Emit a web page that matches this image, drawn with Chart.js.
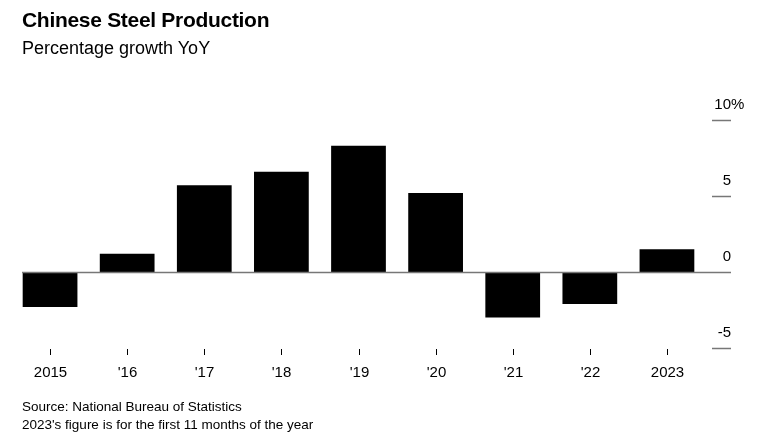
<!DOCTYPE html>
<html><head><meta charset="utf-8">
<script src="https://cdn.jsdelivr.net/npm/chart.js@4"></script>
<style>
body{margin:0;width:768px;height:446px;position:relative;font-family:"Liberation Sans",Arial,sans-serif;background:#fff;overflow:hidden}
#t{position:absolute;left:22px;top:8px;font-size:21px;font-weight:bold;color:#000;letter-spacing:-0.3px;z-index:2}
#s{position:absolute;left:22px;top:38px;font-size:18px;color:#000;z-index:2}
#src{position:absolute;left:22px;top:398px;font-size:13.5px;line-height:18px;color:#000;z-index:2}
canvas{position:absolute;left:0;top:0}
</style></head><body>
<div id="t">Chinese Steel Production</div>
<div id="s">Percentage growth YoY</div>
<div id="src">Source: National Bureau of Statistics<br>2023's figure is for the first 11 months of the year</div>
<canvas id="c" width="768" height="446" style="width:768px;height:446px"></canvas>
<script>
const categories=["2015","'16","'17","'18","'19","'20","'21","'22","2023"];
const growth=[-2.3,1.2,5.7,6.6,8.3,5.2,-3.0,-2.1,1.5];
const yTicks=[10,5,0,-5];
const yTickLabels=["10","5","0","-5"];
const deco={id:'deco',afterDatasetsDraw(ch){
 const c=ch.ctx,y=ch.scales.y,x=ch.scales.x;
 c.save();
 c.strokeStyle='#777';c.lineWidth=1.5;
 yTicks.forEach((v,i)=>{const p=Math.round(y.getPixelForValue(v))+0.5;
  c.beginPath();c.moveTo(v===0?22:712,p);c.lineTo(731,p);c.stroke();
  c.fillStyle='#000';c.font='15px "Liberation Sans", Arial';c.textAlign='right';c.textBaseline='middle';
  c.fillText(yTickLabels[i],731,p-16);
  if(i===0){c.textAlign='left';c.fillText('%',731,p-16);}
 });
 c.strokeStyle='#000';c.lineWidth=1;
 categories.forEach((l,i)=>{const p=Math.round(x.getPixelForValue(i))+0.5;
  c.beginPath();c.moveTo(p,349);c.lineTo(p,355);c.stroke();
  c.fillStyle='#000';c.font='15px "Liberation Sans", Arial';c.textAlign='center';c.textBaseline='middle';
  c.fillText(l,p,373);
 });
 c.restore();}};
new Chart(document.getElementById('c'),{type:'bar',
 data:{labels:categories,datasets:[{data:growth,backgroundColor:'#000',barPercentage:0.71,categoryPercentage:1}]},
 options:{responsive:false,maintainAspectRatio:false,animation:false,devicePixelRatio:1,
  layout:{padding:{left:11.5,right:62.5,top:120,bottom:98}},
  plugins:{legend:{display:false},tooltip:{enabled:false}},
  scales:{x:{display:false},y:{display:false,min:-5,max:10}}},
 plugins:[deco]});
</script></body></html>
